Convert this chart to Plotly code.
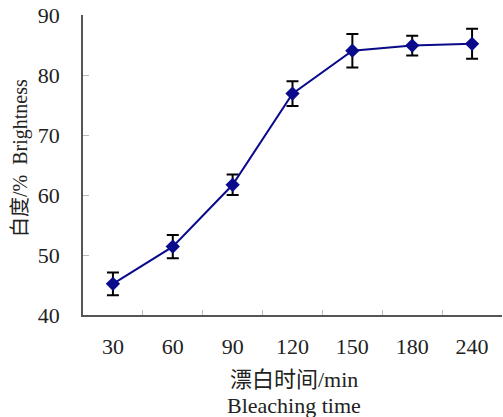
import plotly.graph_objects as go

categories = ["30", "60", "90", "120", "150", "180", "240"]
brightness = [45.2, 51.4, 61.7, 76.9, 84.05, 84.9, 85.2]
errors = [1.9, 1.95, 1.7, 2.05, 2.8, 1.65, 2.5]
y_ticks = [40, 50, 60, 70, 80, 90]

FONT = "Liberation Serif, Times New Roman, Noto Sans CJK SC, serif"

W, H = 503, 417
L, R, T, B = 83, 1, 15, 102
pw = W - L - R
ph = H - T - B


def px_to_paper(px, py):
    return (px - L) / pw, (H - B - py) / ph


fig = go.Figure()
fig.add_trace(go.Scatter(
    x=categories, y=brightness,
    mode="lines+markers",
    line=dict(color="#0a0a8c", width=2),
    marker=dict(symbol="diamond", size=11, color="#0a0a8c"),
    error_y=dict(type="data", array=errors, visible=True,
                 color="black", thickness=2, width=6),
    showlegend=False,
))

xt1 = px_to_paper(294, 379)
xt2 = px_to_paper(294, 405)
yt = px_to_paper(20, 158)

fig.update_layout(
    width=W, height=H,
    margin=dict(l=L, r=R, t=T, b=B),
    paper_bgcolor="white", plot_bgcolor="white",
    font=dict(family=FONT, size=22, color="#222"),
    xaxis=dict(
        type="category", categoryorder="array", categoryarray=categories,
        range=[-0.5, 6.5],
        showline=True, linecolor="#555", linewidth=1.5,
        ticks="inside", tickson="boundaries", ticklen=5, tickcolor="#bbb",
        showgrid=False, zeroline=False,
        tickfont=dict(family=FONT, size=22, color="#222"),
        ticklabelstandoff=11,
    ),
    yaxis=dict(
        range=[40, 90], tickvals=y_ticks,
        showline=True, linecolor="#555", linewidth=1.5,
        ticks="inside", ticklen=6, tickcolor="#bbb",
        showgrid=False, zeroline=False,
        tickfont=dict(family=FONT, size=22, color="#222"),
        ticklabelstandoff=17,
    ),
    annotations=[
        dict(text="漂白时间/min", x=xt1[0], y=xt1[1], xref="paper", yref="paper",
             xanchor="center", yanchor="middle", showarrow=False,
             font=dict(family=FONT, size=22, color="#222")),
        dict(text="Bleaching time", x=xt2[0], y=xt2[1], xref="paper", yref="paper",
             xanchor="center", yanchor="middle", showarrow=False,
             font=dict(family=FONT, size=22, color="#222")),
        dict(text="白度/%  Brightness", x=yt[0], y=yt[1], xref="paper", yref="paper",
             xanchor="center", yanchor="middle", textangle=-90, showarrow=False,
             font=dict(family=FONT, size=20, color="#222")),
    ],
)

fig.write_html("out.html")
